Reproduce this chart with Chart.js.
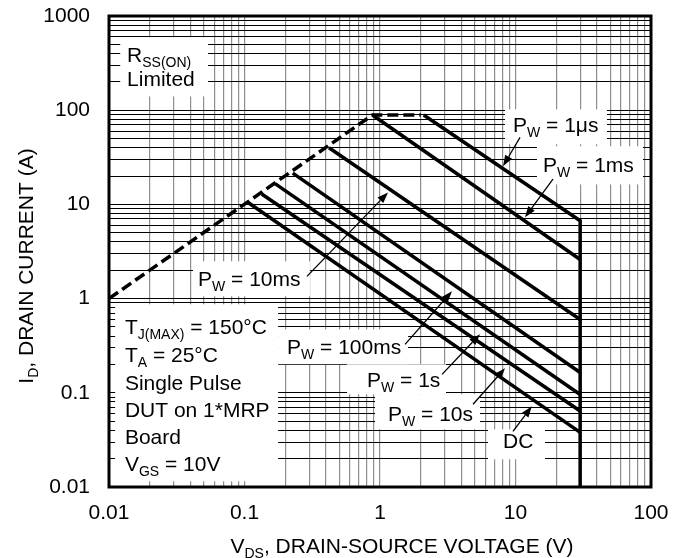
<!DOCTYPE html>
<html><head><meta charset="utf-8">
<script src="https://cdn.jsdelivr.net/npm/chart.js@4"></script>
<style>html,body{margin:0;padding:0;background:#fff;}canvas{display:block;}</style>
</head><body>
<canvas id="c" width="686" height="558"></canvas>
<script>
// ---------- data ----------
const xTickLabels = ['0.01', '0.1', '1', '10', '100'];
const yTickLabels = ['0.01', '0.1', '1', '10', '100', '1000'];

const rdsLimitV = [0.01, 0.88, 2.0];
const rdsLimitI = [1, 89, 89];
const pw1usV = [2.1, 30, 30];
const pw1usI = [89, 6.7, 0.01];
const pw1msV = [0.88, 30];
const pw1msI = [89, 2.6];
const pw10msV = [0.42, 30];
const pw10msI = [40, 0.6];
const pw100msV = [0.227, 30];
const pw100msI = [21.5, 0.164];
const pw1sV = [0.168, 30];
const pw1sI = [16.6, 0.096];
const pw10sV = [0.134, 30];
const pw10sI = [12.9, 0.064];
const dcV = [0.107, 30];
const dcI = [10.4, 0.038];

const FONT = '"Liberation Sans", Arial, Helvetica, sans-serif';
const FS = 21, SUBFS = 14, SUBDY = 5;

function pts(vs, is) { return vs.map((v, k) => ({x: v, y: is[k]})); }
function ds(label, vs, is, dashed) {
  return {label, data: pts(vs, is), showLine: true, borderColor: '#000', borderWidth: 3.5,
    pointRadius: 0, borderDash: dashed ? [11, 5] : [], fill: false, borderJoinStyle: 'miter'};
}

// annotation layout (data coordinates)
const boxes = [
  [0.0121, 0.0538, 594, 140],
  [0.0111, 0.177, 0.87, 0.0115],
  [0.0417, 0.304, 2.49, 1.06],
  [0.177, 1.61, 0.472, 0.201],
  [0.571, 3.07, 0.201, 0.0964],
  [0.919, 5.47, 0.0964, 0.041],
  [6.27, 16.5, 0.041, 0.0197],
  [8.37, 47.3, 102, 43.5],
  [14.4, 87.3, 41.4, 16.3]
];
const notes = [
  {t: 'R_{SS(ON)}', v: 0.0136, i: 321},
  {t: 'Limited', v: 0.0136, i: 179},
  {t: 'T_{J(MAX)} = 150°C', v: 0.0131, i: 0.418},
  {t: 'T_{A} = 25°C', v: 0.0131, i: 0.211},
  {t: 'Single Pulse', v: 0.0131, i: 0.106},
  {t: 'DUT on 1*MRP', v: 0.0131, i: 0.055},
  {t: 'Board', v: 0.0131, i: 0.0284},
  {t: 'V_{GS} = 10V', v: 0.0131, i: 0.0147},
  {t: 'P_{W} = 1μs', v: 9.58, i: 58.2},
  {t: 'P_{W} = 1ms', v: 15.96, i: 21.9},
  {t: 'P_{W} = 10ms', v: 0.0454, i: 1.35},
  {t: 'P_{W} = 100ms', v: 0.206, i: 0.256},
  {t: 'P_{W} = 1s', v: 0.802, i: 0.1144},
  {t: 'P_{W} = 10s', v: 1.146, i: 0.0498},
  {t: 'DC', v: 8.09, i: 0.0257}
];
const arrows = [
  [10.8, 51.5, 8.09, 25.4],
  [18.9, 18.5, 11.75, 7.3],
  [0.289, 1.72, 1.146, 13.4],
  [1.53, 0.327, 3.4, 1.195],
  [2.87, 0.157, 5.47, 0.418],
  [4.86, 0.0755, 8.37, 0.182],
  [9.58, 0.039, 13.2, 0.0719]
];

function parseRich(s) {
  const parts = []; const re = /_\{([^}]*)\}/g; let last = 0, m;
  while ((m = re.exec(s))) {
    if (m.index > last) parts.push({t: s.slice(last, m.index), sub: false});
    parts.push({t: m[1], sub: true}); last = re.lastIndex;
  }
  if (last < s.length) parts.push({t: s.slice(last), sub: false});
  return parts;
}
function drawRich(ctx, s, x, y, align) {
  const parts = parseRich(s);
  let w = 0;
  parts.forEach(p => { ctx.font = (p.sub ? SUBFS : FS) + 'px ' + FONT; p.w = ctx.measureText(p.t).width; w += p.w; });
  let cx = align === 'center' ? x - w / 2 : x;
  ctx.textBaseline = 'alphabetic'; ctx.textAlign = 'left'; ctx.fillStyle = '#000';
  parts.forEach(p => {
    ctx.font = (p.sub ? SUBFS : FS) + 'px ' + FONT;
    ctx.fillText(p.t, cx, y + (p.sub ? SUBDY : 0));
    cx += p.w;
  });
}

const decorPlugin = {
  id: 'decor',
  beforeDatasetsDraw(chart) {
    const {ctx, scales: {x, y}} = chart;
    ctx.save(); ctx.fillStyle = '#fff';
    boxes.forEach(b => {
      const x1 = x.getPixelForValue(b[0]), x2 = x.getPixelForValue(b[1]);
      const y1 = y.getPixelForValue(b[2]), y2 = y.getPixelForValue(b[3]);
      ctx.fillRect(x1, y1, x2 - x1, y2 - y1);
    });
    ctx.restore();
  },
  afterDatasetsDraw(chart) {
    const {ctx, chartArea: a, scales: {x, y}} = chart;
    ctx.save();
    // frame
    ctx.strokeStyle = '#000'; ctx.lineWidth = 3;
    ctx.strokeRect(a.left, a.top, a.right - a.left, a.bottom - a.top);
    // notes
    notes.forEach(n => drawRich(ctx, n.t, x.getPixelForValue(n.v), y.getPixelForValue(n.i), 'left'));
    // arrows
    ctx.strokeStyle = '#000'; ctx.fillStyle = '#000'; ctx.lineWidth = 1.3;
    arrows.forEach(r => {
      const x0 = x.getPixelForValue(r[0]), y0 = y.getPixelForValue(r[1]);
      const x1 = x.getPixelForValue(r[2]), y1 = y.getPixelForValue(r[3]);
      const ang = Math.atan2(y1 - y0, x1 - x0), L = 11, W = 4;
      const bx = x1 - L * Math.cos(ang), by = y1 - L * Math.sin(ang);
      ctx.beginPath(); ctx.moveTo(x0, y0); ctx.lineTo(bx, by); ctx.stroke();
      ctx.beginPath(); ctx.moveTo(x1, y1);
      ctx.lineTo(bx + W * Math.sin(ang), by - W * Math.cos(ang));
      ctx.lineTo(bx - W * Math.sin(ang), by + W * Math.cos(ang));
      ctx.closePath(); ctx.fill();
    });
    // axis titles
    drawRich(ctx, 'V_{DS}, DRAIN-SOURCE VOLTAGE (V)', 402, 553, 'center');
    ctx.translate(33, 266); ctx.rotate(-Math.PI / 2);
    drawRich(ctx, 'I_{D}, DRAIN CURRENT (A)', 0, 0, 'center');
    ctx.restore();
  }
};

function logTicks(minE, maxE) {
  const out = [];
  for (let e = minE; e < maxE; e++) for (let m = 1; m <= 9; m++) out.push({value: Number((m * Math.pow(10, e)).toPrecision(10))});
  out.push({value: Math.pow(10, maxE)});
  return out;
}
function decadeLabel(list) {
  return function (v) {
    const l = Math.log10(v);
    if (Math.abs(l - Math.round(l)) > 1e-9) return '';
    const s = list.find(t => Math.abs(Number(t) - v) < 1e-12 * Math.max(1, v));
    return s === undefined ? '' : s;
  };
}

new Chart(document.getElementById('c'), {
  type: 'scatter',
  data: {datasets: [
    ds('RDS(ON) Limit', rdsLimitV, rdsLimitI, true),
    ds('PW = 1μs', pw1usV, pw1usI),
    ds('PW = 1ms', pw1msV, pw1msI),
    ds('PW = 10ms', pw10msV, pw10msI),
    ds('PW = 100ms', pw100msV, pw100msI),
    ds('PW = 1s', pw1sV, pw1sI),
    ds('PW = 10s', pw10sV, pw10sI),
    ds('DC', dcV, dcI)
  ]},
  options: {
    responsive: false, animation: false, devicePixelRatio: 1,
    layout: {padding: {top: 16, right: 35, left: 0, bottom: 0}},
    plugins: {legend: {display: false}, tooltip: {enabled: false}},
    scales: {
      x: {
        type: 'logarithmic', min: 0.01, max: 100,
        afterBuildTicks: s => { s.ticks = logTicks(-2, 2); },
        afterFit: s => { s.height = 71; s.paddingLeft = 0; s.paddingRight = 0; },
        grid: {color: '#8e8e8e', lineWidth: 1.2, drawTicks: false},
        border: {display: false},
        ticks: {callback: decadeLabel(xTickLabels), autoSkip: false, maxRotation: 0, padding: 14, color: '#000', font: {family: FONT, size: FS}}
      },
      y: {
        type: 'logarithmic', min: 0.01, max: 1000,
        afterBuildTicks: s => { s.ticks = logTicks(-2, 3); },
        afterFit: s => { s.width = 109; s.paddingTop = 0; s.paddingBottom = 0; },
        grid: {color: '#000', lineWidth: 1, drawTicks: false},
        border: {display: false},
        ticks: {callback: decadeLabel(yTickLabels), autoSkip: false, padding: 19, color: '#000', font: {family: FONT, size: FS}}
      }
    }
  },
  plugins: [decorPlugin]
});
</script>
</body></html>
